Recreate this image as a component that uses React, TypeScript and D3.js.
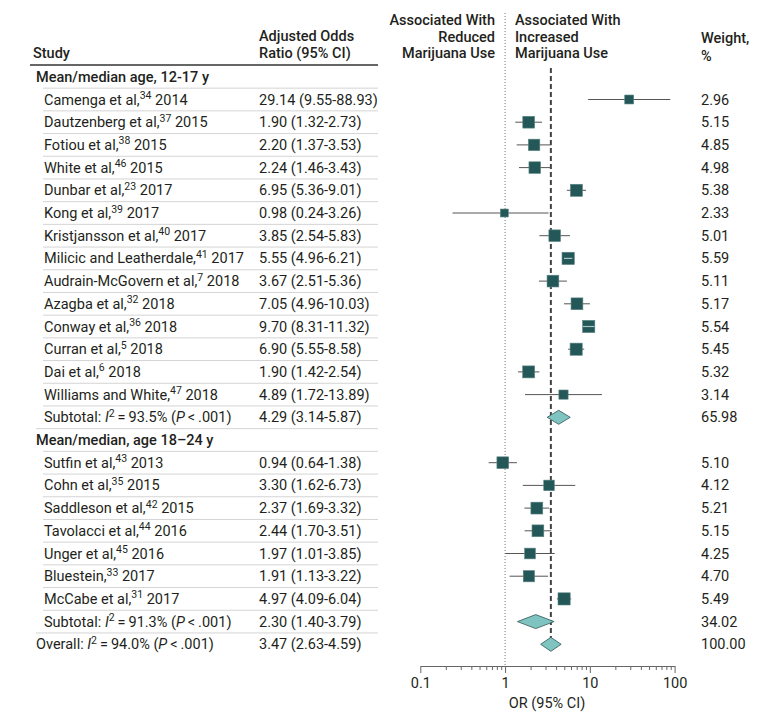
import React, { useEffect, useRef } from "react";
import * as d3 from "d3";

// ---- Data ----
const group1Names = ["Camenga et al,", "Dautzenberg et al,", "Fotiou et al,", "White et al,", "Dunbar et al,", "Kong et al,", "Kristjansson et al,", "Milicic and Leatherdale,", "Audrain-McGovern et al,", "Azagba et al,", "Conway et al,", "Curran et al,", "Dai et al,", "Williams and White,"];
const group1Refs = ["34", "37", "38", "46", "23", "39", "40", "41", "7", "32", "36", "5", "6", "47"];
const group1Years = ["2014", "2015", "2015", "2015", "2017", "2017", "2017", "2017", "2018", "2018", "2018", "2018", "2018", "2018"];
const group1OR = [29.14, 1.90, 2.20, 2.24, 6.95, 0.98, 3.85, 5.55, 3.67, 7.05, 9.70, 6.90, 1.90, 4.89];
const group1Lo = [9.55, 1.32, 1.37, 1.46, 5.36, 0.24, 2.54, 4.96, 2.51, 4.96, 8.31, 5.55, 1.42, 1.72];
const group1Hi = [88.93, 2.73, 3.53, 3.43, 9.01, 3.26, 5.83, 6.21, 5.36, 10.03, 11.32, 8.58, 2.54, 13.89];
const group1Weight = ["2.96", "5.15", "4.85", "4.98", "5.38", "2.33", "5.01", "5.59", "5.11", "5.17", "5.54", "5.45", "5.32", "3.14"];

const group2Names = ["Sutfin et al,", "Cohn et al,", "Saddleson et al,", "Tavolacci et al,", "Unger et al,", "Bluestein,", "McCabe et al,"];
const group2Refs = ["43", "35", "42", "44", "45", "33", "31"];
const group2Years = ["2013", "2015", "2015", "2016", "2016", "2017", "2017"];
const group2OR = [0.94, 3.30, 2.37, 2.44, 1.97, 1.91, 4.97];
const group2Lo = [0.64, 1.62, 1.69, 1.70, 1.01, 1.13, 4.09];
const group2Hi = [1.38, 6.73, 3.32, 3.51, 3.85, 3.22, 6.04];
const group2Weight = ["5.10", "4.12", "5.21", "5.15", "4.25", "4.70", "5.49"];

const groupTitles = ["Mean/median age, 12-17 y", "Mean/median, age 18\u201324 y"];
// pooled: subtotal 1, subtotal 2, overall
const pooledLabels = ["Subtotal:", "Subtotal:", "Overall:"];
const pooledI2 = ["93.5%", "91.3%", "94.0%"];
const pooledOR = [4.29, 2.30, 3.47];
const pooledLo = [3.14, 1.40, 2.63];
const pooledHi = [5.87, 3.79, 4.59];
const pooledWeight = ["65.98", "34.02", "100.00"];

const majorTicks = [0.1, 1, 10, 100];
const minorTicks = [0.2, 0.3, 0.4, 0.5, 0.6, 0.7, 0.8, 0.9, 2, 3, 4, 5, 6, 7, 8, 9, 20, 30, 40, 50, 60, 70, 80, 90];
const axisTitle = "OR (95% CI)";

const FONT = "Roboto, 'Liberation Sans', Arial, sans-serif";
const FS = 14.5;
const HW = 500;
const TXT = "#231f20";
const SQ = "#245858";
const DIA = "#80c4c1";

const fmt = (v: number) => v.toFixed(2);
const ciText = (o: number, l: number, h: number) => `${fmt(o)} (${fmt(l)}-${fmt(h)})`;

type Row =
  | { kind: "title"; text: string }
  | { kind: "study"; name: string; ref: string; year: string; or: number; lo: number; hi: number; w: string }
  | { kind: "pooled"; idx: number };

const rows: Row[] = [];
rows.push({ kind: "title", text: groupTitles[0] });
group1Names.forEach((n, i) => rows.push({ kind: "study", name: n, ref: group1Refs[i], year: group1Years[i], or: group1OR[i], lo: group1Lo[i], hi: group1Hi[i], w: group1Weight[i] }));
rows.push({ kind: "pooled", idx: 0 });
rows.push({ kind: "title", text: groupTitles[1] });
group2Names.forEach((n, i) => rows.push({ kind: "study", name: n, ref: group2Refs[i], year: group2Years[i], or: group2OR[i], lo: group2Lo[i], hi: group2Hi[i], w: group2Weight[i] }));
rows.push({ kind: "pooled", idx: 1 });
rows.push({ kind: "pooled", idx: 2 });

export default function App() {
  const axisRef = useRef<SVGGElement>(null);
  const x = d3.scaleLog().domain([0.1, 100]).range([420.3, 674.6]);
  const y = d3.scaleLinear().domain([1, rows.length - 1]).range([99.5, 644.3]);
  const size = d3.scaleSqrt().domain([0, 1]).range([0, 5.2]);
  const axisY = 666;

  useEffect(() => {
    if (!axisRef.current) return;
    const g = d3.select(axisRef.current);
    g.selectAll("*").remove();
    const minor = g.append("g").call(d3.axisBottom(x).tickValues(minorTicks).tickSize(4).tickSizeOuter(0).tickFormat(() => ""));
    minor.select(".domain").remove();
    const major = g.append("g").call(d3.axisBottom(x).tickValues(majorTicks).tickSize(7).tickSizeOuter(0).tickFormat((d: any) => String(d)));
    g.selectAll("line").attr("stroke", "#666");
    major.select(".domain").attr("stroke", "#666");
    major.selectAll("text").attr("font-family", FONT).attr("font-size", FS).attr("fill", TXT).attr("dy", "0.8em");
  }, []);

  const dashedTop = 68;
  const overallY = y(rows.length - 1);

  return (
    <svg width={780} height={721} style={{ position: "absolute", left: 0, top: 0, background: "#fff" }} fontFamily={FONT} fontSize={FS} fill={TXT}>
      {/* column headers */}
      <text x={33} y={58} fontWeight={HW}>Study</text>
      <text x={259} y={41} fontWeight={HW}>Adjusted Odds</text>
      <text x={259} y={58} fontWeight={HW}>Ratio (95% CI)</text>
      <text x={495} y={25} fontWeight={HW} textAnchor="end">Associated With</text>
      <text x={495} y={41.5} fontWeight={HW} textAnchor="end">Reduced</text>
      <text x={495} y={58} fontWeight={HW} textAnchor="end">Marijuana Use</text>
      <text x={515} y={25} fontWeight={HW}>Associated With</text>
      <text x={515} y={41.5} fontWeight={HW}>Increased</text>
      <text x={515} y={58} fontWeight={HW}>Marijuana Use</text>
      <text x={701} y={43} fontWeight={HW}>Weight,</text>
      <text x={701} y={60.5} fontWeight={HW}>%</text>
      <line x1={30} x2={378} y1={65} y2={65} stroke="#333" strokeWidth={1.5} />

      {/* row separators */}
      {rows.slice(0, rows.length - 1).map((r, i) => {
        const startX = r.kind === "pooled" ? 36 : 43;
        const yy = y(i) + 11.35;
        return <line key={"sep" + i} x1={startX} x2={378} y1={yy} y2={yy} stroke="#d4d4d4" strokeWidth={1} />;
      })}

      {/* reference lines */}
      <line x1={x(1)} x2={x(1)} y1={13} y2={axisY} stroke="#777" strokeWidth={1} strokeDasharray="1,2" />
      <line x1={x(pooledOR[2])} x2={x(pooledOR[2])} y1={dashedTop} y2={overallY} stroke="#444" strokeWidth={2} strokeDasharray="5,3" />

      {/* rows */}
      {rows.map((r, i) => {
        const yy = y(i);
        const ty = yy + 5;
        if (r.kind === "title") {
          return <text key={"r" + i} x={36} y={ty} fontWeight={HW}>{r.text}</text>;
        }
        if (r.kind === "study") {
          const s = size(+r.w);
          const cx = x(r.or);
          const x1 = x(r.lo), x2 = x(r.hi);
          const inside = x2 - x1 < s;
          return (
            <g key={"r" + i}>
              <text x={44} y={ty}>
                <tspan>{r.name}</tspan>
                <tspan dy={-5.5} fontSize={10.5}>{r.ref}</tspan>
                <tspan dy={5.5}>{" " + r.year}</tspan>
              </text>
              <text x={259} y={ty}>{ciText(r.or, r.lo, r.hi)}</text>
              <text x={701} y={ty}>{r.w}</text>
              <line x1={x1} x2={x2} y1={yy} y2={yy} stroke="#555" strokeWidth={1} />
              <rect x={cx - s / 2} y={yy - s / 2} width={s} height={s} fill={SQ} stroke="#5d8585" strokeWidth={0.6} />
              {inside && <line x1={x1} x2={x2} y1={yy} y2={yy} stroke="#a9c2c2" strokeWidth={1.2} />}
            </g>
          );
        }
        const k = r.idx;
        const isOverall = k === 2;
        const cx = x(pooledOR[k]);
        const x1 = x(pooledLo[k]), x2 = x(pooledHi[k]);
        const h = 7;
        const path = `M${x1},${yy} L${cx},${yy - h} L${x2},${yy} L${cx},${yy + h} Z`;
        return (
          <g key={"r" + i}>
            <text x={isOverall ? 36 : 44} y={ty}>
              <tspan>{pooledLabels[k] + " "}</tspan>
              <tspan fontStyle="italic">I</tspan>
              <tspan dy={-5.5} fontSize={10.5}>2</tspan>
              <tspan dy={5.5}>{"\u2009=\u2009" + pooledI2[k] + " ("}</tspan>
              <tspan fontStyle="italic">P</tspan>
              <tspan>{"\u2009<\u2009.001)"}</tspan>
            </text>
            <text x={259} y={ty}>{ciText(pooledOR[k], pooledLo[k], pooledHi[k])}</text>
            <text x={701} y={ty}>{pooledWeight[k]}</text>
            <path d={path} fill={DIA} stroke="#2f5656" strokeWidth={0.8} />
          </g>
        );
      })}

      {/* axis */}
      <g ref={axisRef} transform={`translate(0,${axisY})`} />
      <text x={x(1) + 42} y={708} textAnchor="middle">{axisTitle}</text>
    </svg>
  );
}
